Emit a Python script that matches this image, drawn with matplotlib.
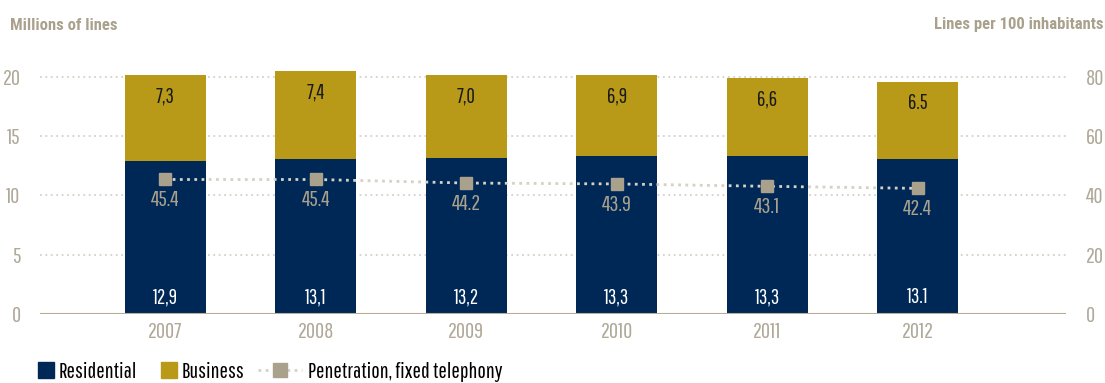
import matplotlib
matplotlib.use("Agg")
import matplotlib.pyplot as plt
from matplotlib import font_manager
from matplotlib.patches import Rectangle
from matplotlib.lines import Line2D

names = set(f.name for f in font_manager.fontManager.ttflist)


def pick(options):
    for n in options:
        if n in names:
            return n
    return "DejaVu Sans"


body_font = pick(["Pathway Gothic One", "Barlow Condensed", "Roboto Condensed", "Archivo Narrow"])
title_font = pick(["Roboto Condensed", "Barlow Condensed", "Archivo Narrow"])
plt.rcParams["font.family"] = [body_font, "DejaVu Sans"]

years = ["2007", "2008", "2009", "2010", "2011", "2012"]
residential = [12.9, 13.1, 13.2, 13.3, 13.3, 13.1]
business = [7.3, 7.4, 7.0, 6.9, 6.6, 6.5]
penetration = [45.4, 45.4, 44.2, 43.9, 43.1, 42.4]
res_labels = ["12,9", "13,1", "13,2", "13,3", "13,3", "13.1"]
bus_labels = ["7,3", "7,4", "7,0", "6,9", "6,6", "6.5"]
pen_labels = ["45.4", "45.4", "44.2", "43.9", "43.1", "42.4"]

navy = "#002856"
gold = "#b89a18"
grey = "#a9a18c"
light = "#d6d1c6"
tick_c = "#b0a898"

fig = plt.figure(figsize=(11.05, 3.83), dpi=100)
ax = fig.add_axes([40 / 1105, 1 - 314 / 383, 1026 / 1105, 254.8 / 383])
x = list(range(len(years)))

ax.bar(x, residential, width=0.54, color=navy, zorder=2)
ax.bar(x, business, bottom=residential, width=0.54, color=gold, zorder=2)

for i in x:
    ax.text(i, 1.4, res_labels[i], ha="center", va="center", color="white", fontsize=15)
    ax.text(i, residential[i] + business[i] - 1.8, bus_labels[i], ha="center", va="center",
            color="#1a1a1a", fontsize=15)

ax.set_xlim(-0.834, 5.987)
ax.set_ylim(0, 21.5)
ax.set_yticks([0, 5, 10, 15, 20])
ax.set_xticks(x)
ax.set_xticklabels(years)
for v in [5, 10, 15, 20]:
    ax.axhline(v, color=light, lw=1.3, ls=(0, (1, 2)), zorder=1)
ax.axhline(0, color="#b5ad98", lw=1.5, zorder=3)
for s in ax.spines.values():
    s.set_visible(False)
ax.tick_params(length=0, colors=tick_c, labelsize=16)
ax.tick_params(axis="y", pad=14)
ax.tick_params(axis="x", pad=6)

ax2 = ax.twinx()
ax2.set_ylim(0, 86)
ax2.set_yticks([0, 20, 40, 60, 80])
for s in ax2.spines.values():
    s.set_visible(False)
ax2.tick_params(length=0, colors=tick_c, labelsize=16, pad=14)
ax2.plot(x, penetration, color=light, lw=2, ls=(0, (1, 1.6)), zorder=3)
ax2.plot(x, penetration, ls="none", marker="s", ms=9, color=grey, zorder=4)
for i in x:
    ax2.annotate(pen_labels[i], (i, penetration[i]), xytext=(0, -15), textcoords="offset points",
                 ha="center", va="center", color=grey, fontsize=16)

fig.text(10 / 1105, 1 - 25 / 383, "Millions of lines", color=grey, fontsize=12,
         fontweight="bold", family=[title_font, "DejaVu Sans"], ha="left", va="center")
fig.text(1103 / 1105, 1 - 25 / 383, "Lines per 100 inhabitants", color=grey, fontsize=12,
         fontweight="bold", family=[title_font, "DejaVu Sans"], ha="right", va="center")

# legend: one small legend per entry so each sits where it does in the original
legend_items = [
    (Rectangle((0, 0), 1, 1, color=navy), "Residential", 38, 0.7),
    (Rectangle((0, 0), 1, 1, color=gold), "Business", 161, 0.7),
    (Line2D([0], [0], color=light, lw=2, ls=(0, (1, 1.6)), marker="s", ms=10,
            markerfacecolor=grey, markeredgecolor=grey), "Penetration, fixed telephony", 258, 2.0),
]
for h, lab, xpos, hl in legend_items:
    fig.legend([h], [lab], loc="center left", bbox_to_anchor=(xpos / 1105, 1 - 372 / 383),
               frameon=False, fontsize=16, handlelength=hl, handleheight=0.7,
               handletextpad=0.25, borderaxespad=0, borderpad=0)

fig.text(1040 / 1105, 1 - 391 / 383, "Source: CMT", color="#333333", fontsize=11,
         ha="center", va="center")

fig.savefig("out.png", dpi=100)
